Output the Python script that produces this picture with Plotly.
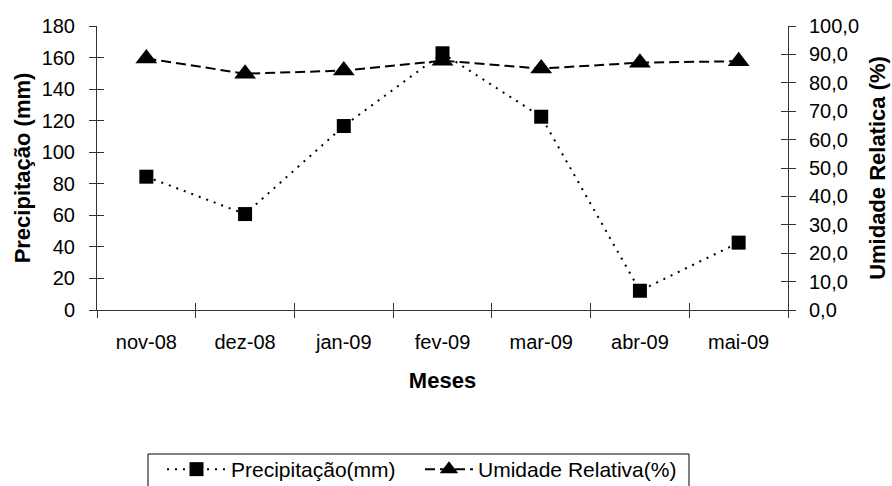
import plotly.graph_objects as go

meses = ["nov-08", "dez-08", "jan-09", "fev-09", "mar-09", "abr-09", "mai-09"]
precipitacao = [84.5, 60.8, 116.6, 162.7, 122.5, 12.2, 42.7]
umidade = [88.6, 83.2, 84.3, 87.8, 85.0, 87.1, 87.6]
ticks_precip = [0, 20, 40, 60, 80, 100, 120, 140, 160, 180]
ticks_umid = [0, 10, 20, 30, 40, 50, 60, 70, 80, 90, 100]

FONT = "Liberation Sans, Arial, sans-serif"
AX = "#333333"
W, H = 892, 486
ML, MR, MT, MB = 97, 104, 26, 176
PW, PH = W - ML - MR, H - MT - MB


def px_to_paper_x(px):
    return (px - ML) / PW


def px_to_paper_y(py):
    return (H - MB - py) / PH


fig = go.Figure()
fig.add_trace(go.Scatter(
    x=meses, y=precipitacao, name="Precipitação(mm)", mode="lines+markers",
    line=dict(color="black", width=2, dash="2px,6px"),
    marker=dict(symbol="square", size=14, color="black"),
    legend="legend",
))
fig.add_trace(go.Scatter(
    x=meses, y=umidade, name="Umidade Relativa(%)", mode="lines+markers", yaxis="y2",
    line=dict(color="black", width=2, dash="10px,5px"),
    marker=dict(symbol="triangle-up", size=19, color="black"),
    legend="legend2",
))

common = dict(showgrid=False, zeroline=False, showline=True, linecolor=AX, linewidth=1,
              tickcolor=AX, ticklen=7, tickwidth=1, automargin=False)

legend_common = dict(
    orientation="h", xref="container", yref="container", xanchor="left",
    y=1 - 449 / H, yanchor="top", bgcolor="rgba(0,0,0,0)", borderwidth=0,
    font=dict(size=21),
)

fig.update_layout(
    width=W, height=H,
    margin=dict(l=ML, r=MR, t=MT, b=MB),
    paper_bgcolor="white", plot_bgcolor="white",
    font=dict(family=FONT, size=20, color="black"),
    separators=",.",
    xaxis=dict(
        type="category", range=[-0.5, 6.5], tickson="boundaries", ticks="outside",
        ticklabelstandoff=14,
        title=dict(text="<b>Meses</b>", font=dict(size=22), standoff=20),
        **common,
    ),
    yaxis=dict(
        range=[0, 180], tickvals=ticks_precip, ticks="outside", ticklabelstandoff=10,
        title=dict(text="<b>Precipitação (mm)</b>", font=dict(size=22), standoff=4),
        **common,
    ),
    yaxis2=dict(
        range=[0, 100], tickvals=ticks_umid, tickformat=".1f", ticks="outside",
        ticklabelstandoff=9, overlaying="y", side="right",
        title=dict(text="<b>Umidade Relatica (%)</b>", font=dict(size=22), standoff=11),
        **common,
    ),
    # inner halves of the crossing tick marks
    xaxis2=dict(type="category", range=[-0.5, 6.5], tickson="boundaries", ticks="inside",
                overlaying="x", showticklabels=False, **common),
    yaxis3=dict(range=[0, 180], tickvals=ticks_precip, ticks="inside", overlaying="y",
                showticklabels=False, **common),
    yaxis4=dict(range=[0, 100], tickvals=ticks_umid, ticks="inside", overlaying="y",
                side="right", showticklabels=False, **common),
    showlegend=True,
    legend=dict(x=162 / W, itemwidth=59, **legend_common),
    legend2=dict(x=420 / W, itemwidth=48, **legend_common),
    shapes=[dict(
        type="rect", xref="paper", yref="paper",
        x0=px_to_paper_x(148), x1=px_to_paper_x(689),
        y0=px_to_paper_y(454), y1=px_to_paper_y(500),
        line=dict(color="black", width=1), fillcolor="rgba(0,0,0,0)", layer="below",
    )],
)

# invisible traces that carry the extra tick axes
fig.add_trace(go.Scatter(x=meses, y=precipitacao, xaxis="x2", yaxis="y3", mode="none",
                         showlegend=False, hoverinfo="skip"))
fig.add_trace(go.Scatter(x=meses, y=umidade, xaxis="x2", yaxis="y4", mode="none",
                         showlegend=False, hoverinfo="skip"))

fig.write_html("out.html")
